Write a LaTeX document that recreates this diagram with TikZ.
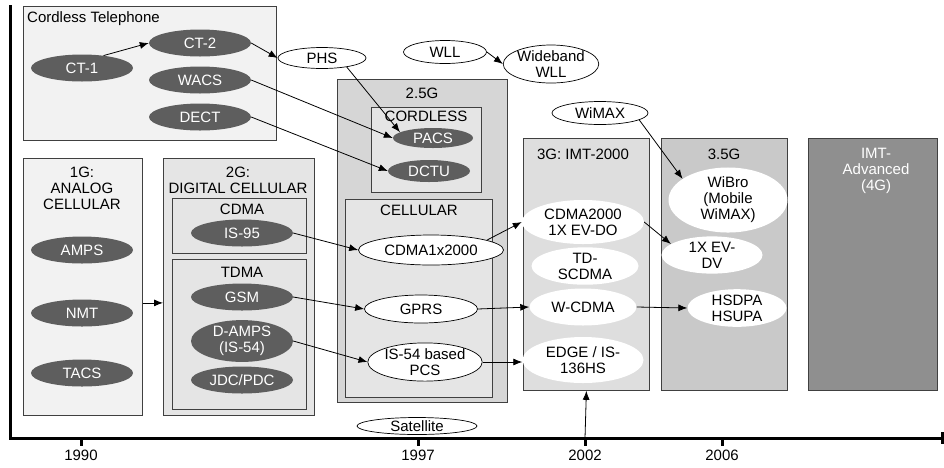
\documentclass[tikz,border=0pt]{standalone}
\usepackage{fontspec}
\setmainfont{Liberation Sans}
\usetikzlibrary{shapes.geometric,arrows.meta}
\begin{document}
\begin{tikzpicture}[x=1pt,y=-1pt,font=\fontsize{15}{16}\selectfont,
  box/.style={draw=black!75,line width=0.8pt,anchor=north west,inner sep=0},
  dark/.style={ellipse,fill=el,text=white,inner sep=0,minimum width=102,minimum height=27,align=center},
  open/.style={ellipse,draw,line width=0.7pt,fill=white,inner sep=0,align=center},
  soft/.style={ellipse,fill=white,inner sep=0,align=center},
  lbl/.style={inner sep=0,align=center},
  arr/.style={-{Latex[length=9pt,width=7pt]},line width=0.8pt},
  axis/.style={line width=3pt}]
\definecolor{b1}{rgb}{0.95,0.95,0.95}
\definecolor{b2}{rgb}{0.9,0.9,0.9}
\definecolor{b25}{rgb}{0.84,0.84,0.84}
\definecolor{b3}{rgb}{0.87,0.87,0.87}
\definecolor{b35}{rgb}{0.79,0.79,0.79}
\definecolor{b4}{rgb}{0.56,0.56,0.56}
\definecolor{el}{rgb}{0.37,0.37,0.37}

\useasboundingbox (0,0) rectangle (944,467);

\node[box,fill=b1,minimum width=253,minimum height=134] (cordless) at (23,6) {};
\node[box,fill=b1,minimum width=119,minimum height=257] (g1) at (23,158) {};
\node[box,fill=b2,minimum width=151,minimum height=257] (g2) at (163,158) {};
\node[box,fill=b2,minimum width=134,minimum height=55] (cdma) at (172,198) {};
\node[box,fill=b2,minimum width=134,minimum height=150] (tdma) at (172,259) {};
\node[box,fill=b25,minimum width=170,minimum height=323] (g25) at (337,79) {};
\node[box,fill=b2,minimum width=110,minimum height=85] (cordless25) at (371,107) {};
\node[box,fill=b2,minimum width=147,minimum height=198] (cellular) at (345,199) {};
\node[box,fill=b3,minimum width=126,minimum height=252] (g3) at (523,138) {};
\node[box,fill=b35,minimum width=126,minimum height=252] (g35) at (661,138) {};
\node[box,fill=b4,minimum width=129,minimum height=252] (g4) at (808,138) {};

\node[lbl,anchor=west] (cordlesslbl) at (27,19) {Cordless Telephone};
\node[lbl] (g1lbl) at (82,188) {1G:\\ANALOG\\CELLULAR};
\node[lbl] (g2lbl) at (238,180) {2G:\\DIGITAL CELLULAR};
\node[lbl] (cdmalbl) at (242,209) {CDMA};
\node[lbl] (tdmalbl) at (242,272) {TDMA};
\node[lbl] (g25lbl) at (422,93) {2.5G};
\node[lbl] (cordless25lbl) at (426,116) {CORDLESS};
\node[lbl] (cellularlbl) at (419,210) {CELLULAR};
\node[lbl] (g3lbl) at (583,154) {3G: IMT-2000};
\node[lbl] (g35lbl) at (724,154) {3.5G};
\node[lbl,text=white] (g4lbl) at (876,171) {IMT-\\Advanced\\(4G)};

\node[dark] (ct1) at (82,68) {CT-1};
\node[dark] (ct2) at (200,43) {CT-2};
\node[dark] (wacs) at (200,80) {WACS};
\node[dark] (dect) at (200,117) {DECT};
\node[dark] (amps) at (82,250) {AMPS};
\node[dark] (nmt) at (82,313) {NMT};
\node[dark] (tacs) at (82,373) {TACS};
\node[dark] (is95) at (242,233) {IS-95};
\node[dark] (gsm) at (242,297) {GSM};
\node[dark,minimum height=30] (damps) at (242,341) {D-AMPS\\(IS-54)};
\node[dark] (jdc) at (242,380) {JDC/PDC};
\node[dark,minimum width=80,minimum height=20] (pacs) at (433,138) {PACS};
\node[dark,minimum width=82,minimum height=22] (dctu) at (429,171) {DCTU};

\node[open,minimum width=88,minimum height=21] (phs) at (322,58) {PHS};
\node[open,minimum width=83,minimum height=23] (wll) at (445,52) {WLL};
\node[open,minimum width=93,minimum height=28] (wwll) at (551,64) {Wideband\\WLL};
\node[open,minimum width=96,minimum height=23] (wimax) at (600,113) {WiMAX};
\node[open,minimum width=145,minimum height=30] (cdma1x) at (431,250) {CDMA1x2000};
\node[open,minimum width=113,minimum height=28] (gprs) at (421,309) {GPRS};
\node[open,minimum width=109,minimum height=37] (is54) at (425,362) {IS-54 based\\PCS};
\node[open,minimum width=120,minimum height=17] (sat) at (417,426) {Satellite};

\node[soft,minimum width=122,minimum height=44] (evdo) at (583,222) {CDMA2000\\1X EV-DO};
\node[soft,minimum width=107,minimum height=37] (tdscdma) at (585,266) {TD-\\SCDMA};
\node[soft,minimum width=107,minimum height=37] (wcdma) at (583,307) {W-CDMA};
\node[soft,minimum width=121,minimum height=46] (edge) at (583,360) {EDGE / IS-\\136HS};
\node[soft,minimum width=119,minimum height=60] (wibro) at (728,200) {WiBro\\(Mobile\\WiMAX)};
\node[soft,minimum width=101,minimum height=36] (evdv) at (712,255) {1X EV-\\DV};
\node[soft,minimum width=99,minimum height=37] (hsdpa) at (737,308) {HSDPA\\HSUPA};

\draw[axis] (10,5) -- (10,438) -- (942,438);
\draw[axis] (942,432) -- (942,444);
\foreach \yr/\x in {1990/81,1997/418,2002/585,2006/722} {
  \coordinate (t\yr) at (\x,438);
  \draw[axis] (t\yr) -- ++(0,8);
  \node[lbl] (y\yr) at (\x,455) {\yr};
}

\draw[arr] (ct1.30) -- (ct2.west);
\draw[arr] (ct2.east) -- (phs.west);
\draw[arr] (wacs.east) -- (pacs.west);
\draw[arr] (dect.east) -- (dctu.west);
\draw[arr] (phs.-20) -- (pacs.170);
\draw[arr] (wll.east) -- (wwll.west);
\draw[arr] ([yshift=-16pt]g1.east) -- ([yshift=-16pt]g2.west);
\draw[arr] (is95.east) -- (cdma1x.west);
\draw[arr] (gsm.east) -- (gprs.west);
\draw[arr] (damps.east) -- (is54.west);
\draw[arr] (cdma1x.10) -- (evdo.west);
\draw[arr] (gprs.east) -- (wcdma.west);
\draw[arr] (is54.east) -- (is54.east -| edge.west);
\draw[arr] (evdo.east) -- (evdv.165);
\draw[arr] (wcdma.east) -- (hsdpa.west);
\draw[arr] (wimax.-10) -- (wibro.155);
\draw[arr] (t2002) -- (g3.south);
\end{tikzpicture}
\end{document}
